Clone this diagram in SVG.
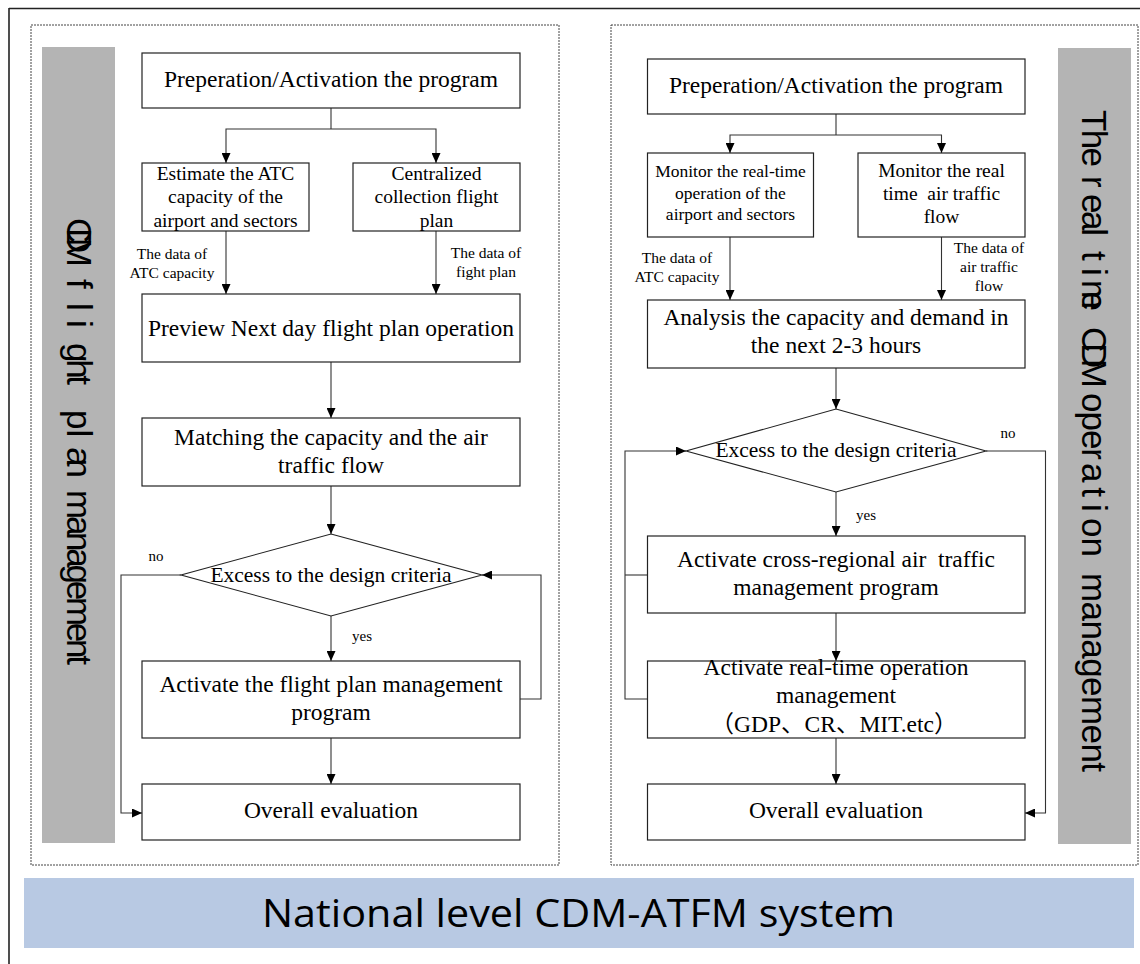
<svg xmlns="http://www.w3.org/2000/svg" width="1140" height="964" viewBox="0 0 1140 964">
<defs>
<marker id="ah" markerWidth="10" markerHeight="9" refX="10" refY="4.5" orient="auto" markerUnits="userSpaceOnUse"><path d="M0,0 L10,4.5 L0,9 z" fill="#000"/></marker>
<style>
.box{fill:#fff;stroke:#222;stroke-width:1.2}
.dia{fill:#fff;stroke:#222;stroke-width:1.1}
.con{fill:none;stroke:#333;stroke-width:1.1}
.arr{fill:none;stroke:#333;stroke-width:1.1;marker-end:url(#ah)}
.t{font-family:"Liberation Serif","Noto Sans CJK SC",serif;fill:#000;text-anchor:middle}
.big{font-size:23.5px}
.mid{font-size:19.5px}
.sm{font-size:17.5px}
.lab{font-size:15.5px}
.dt{font-size:21.5px}
.yn{font-size:15px}
.panel{fill:none;stroke:#444;stroke-width:1;stroke-dasharray:2 1}
.bar{fill:#b4b4b4}
.vt{font-family:"Liberation Sans",Arial,sans-serif;font-size:35px;fill:#000}
</style>
</defs>
<rect width="1140" height="964" fill="#fff"/>
<g id="frame">
<line x1="9" y1="8" x2="9" y2="964" stroke="#222" stroke-width="1.6"/>
<line x1="9" y1="8.5" x2="1140" y2="8.5" stroke="#222" stroke-width="1.4"/>
</g>
<g id="panel-left">
<rect class="panel" x="31" y="25" width="528" height="840"/>
<rect class="bar" x="42" y="47" width="73" height="796"/>
<g transform="rotate(90)" class="vt">
<text x="218" y="-67" textLength="49" lengthAdjust="spacing">CDM</text>
<text x="279" y="-67">f</text>
<text x="303" y="-67">l</text>
<text x="320" y="-67">i</text>
<text x="343" y="-67" textLength="42" lengthAdjust="spacing">ght</text>
<text x="410" y="-67">pl</text>
<text x="447" y="-67" textLength="31" lengthAdjust="spacing">an</text>
<text x="490" y="-67" textLength="175" lengthAdjust="spacing">management</text>
</g>
</g>
<g id="panel-right">
<rect class="panel" x="611" y="25" width="527" height="840"/>
<rect class="bar" x="1058" y="48" width="73" height="796"/>
<g transform="rotate(90)" class="vt">
<text x="110" y="-1082" textLength="57" lengthAdjust="spacing">The</text>
<text x="176" y="-1082">r</text>
<text x="194" y="-1082" textLength="42" lengthAdjust="spacing">eal</text>
<text x="251" y="-1082">t</text>
<text x="268" y="-1082">i</text>
<text x="280" y="-1082" textLength="31" lengthAdjust="spacing">me</text>
<text x="327" y="-1082" textLength="61" lengthAdjust="spacing">CDM</text>
<text x="393" y="-1082" textLength="67" lengthAdjust="spacing">oper</text>
<text x="463" y="-1082" textLength="34" lengthAdjust="spacing">at</text>
<text x="504" y="-1082">i</text>
<text x="518" y="-1082" textLength="39" lengthAdjust="spacing">on</text>
<text x="573" y="-1082" textLength="199" lengthAdjust="spacing">management</text>
</g>
</g>
<g id="connectors">
<line class="con" x1="331" y1="108" x2="331" y2="129"/>
<path class="arr" d="M331,129 H226 V163"/>
<path class="arr" d="M331,129 H436 V163"/>
<line class="arr" x1="226" y1="231" x2="226" y2="294"/>
<line class="arr" x1="436" y1="231" x2="436" y2="294"/>
<line class="arr" x1="331" y1="362" x2="331" y2="418"/>
<line class="arr" x1="331" y1="486" x2="331" y2="534"/>
<line class="arr" x1="331" y1="616" x2="331" y2="661"/>
<path class="arr" d="M181,575 H121 V813 H142"/>
<path class="arr" d="M520,699 H541 V575 H482"/>
<line class="arr" x1="331" y1="738" x2="331" y2="784"/>
<line class="con" x1="836" y1="114" x2="836" y2="135"/>
<path class="arr" d="M836,135 H730 V153"/>
<path class="arr" d="M836,135 H941.5 V153"/>
<line class="arr" x1="730" y1="237" x2="730" y2="300"/>
<line class="arr" x1="941.5" y1="237" x2="941.5" y2="300"/>
<line class="arr" x1="836" y1="368" x2="836" y2="409"/>
<line class="arr" x1="836" y1="492" x2="836" y2="536"/>
<path class="arr" d="M986,451 H1045.5 V813 H1025"/>
<line class="arr" x1="836" y1="613" x2="836" y2="661"/>
<line class="con" x1="647.5" y1="575" x2="625" y2="575"/>
<path class="arr" d="M647.5,699 H625 V451 H686"/>
<line class="arr" x1="836" y1="738" x2="836" y2="784"/>
<g class="t lab">
<text x="172" y="259">The data of</text>
<text x="172" y="278">ATC capacity</text>
<text x="486" y="258">The data of</text>
<text x="486" y="277">fight plan</text>
<text x="677" y="263">The data of</text>
<text x="677" y="282">ATC capacity</text>
<text x="989" y="253">The data of</text>
<text x="989" y="272">air traffic</text>
<text x="989" y="291">flow</text>
</g>
<g class="t yn">
<text x="156" y="561">no</text>
<text x="362" y="641">yes</text>
<text x="1008" y="438">no</text>
<text x="866" y="520">yes</text>
</g>
</g>
<g id="L1"><rect class="box" x="142" y="53" width="378" height="55"/><text class="t big" x="331" y="87">Preperation/Activation the program</text></g>
<g id="L2"><rect class="box" x="142" y="163" width="167" height="68"/><text class="t mid" x="225.5" y="180">Estimate the ATC</text><text class="t mid" x="225.5" y="203">capacity of the</text><text class="t mid" x="225.5" y="227">airport and sectors</text></g>
<g id="L3"><rect class="box" x="353" y="163" width="167" height="68"/><text class="t mid" x="436.5" y="180">Centralized</text><text class="t mid" x="436.5" y="203">collection flight</text><text class="t mid" x="436.5" y="227">plan</text></g>
<g id="L4"><rect class="box" x="142" y="294" width="378" height="68"/><text class="t big" x="331" y="336">Preview Next day flight plan operation</text></g>
<g id="L5"><rect class="box" x="142" y="418" width="378" height="68"/><text class="t big" x="331" y="445">Matching the capacity and the air</text><text class="t big" x="331" y="473">traffic flow</text></g>
<g id="L6"><polygon class="dia" points="331,534 482,575 331,616 181,575"/><text class="t dt" x="331" y="582">Excess to the design criteria</text></g>
<g id="L7"><rect class="box" x="142" y="661" width="378" height="77"/><text class="t big" x="331" y="692">Activate the flight plan management</text><text class="t big" x="331" y="720">program</text></g>
<g id="L8"><rect class="box" x="142" y="784" width="378" height="56"/><text class="t big" x="331" y="818">Overall evaluation</text></g>
<g id="R1"><rect class="box" x="647.5" y="59" width="377.5" height="55"/><text class="t big" x="836" y="93">Preperation/Activation the program</text></g>
<g id="R2"><rect class="box" x="647.5" y="153" width="166" height="84"/><text class="t sm" x="730.5" y="177">Monitor the real-time</text><text class="t sm" x="730.5" y="199">operation of the</text><text class="t sm" x="730.5" y="220">airport and sectors</text></g>
<g id="R3"><rect class="box" x="858" y="153" width="167" height="84"/><text class="t mid" x="941.5" y="177">Monitor the real</text><text class="t mid" x="941.5" y="200" xml:space="preserve">time  air traffic</text><text class="t mid" x="941.5" y="223">flow</text></g>
<g id="R4"><rect class="box" x="647.5" y="300" width="377.5" height="68"/><text class="t big" x="836" y="325">Analysis the capacity and demand in</text><text class="t big" x="836" y="353">the next 2-3 hours</text></g>
<g id="R5"><polygon class="dia" points="836,409 986,451 836,492 686,451"/><text class="t dt" x="836" y="457">Excess to the design criteria</text></g>
<g id="R6"><rect class="box" x="647.5" y="536" width="377.5" height="77"/><text class="t big" x="836" y="567" xml:space="preserve">Activate cross-regional air  traffic</text><text class="t big" x="836" y="595">management program</text></g>
<g id="R7"><rect class="box" x="647.5" y="661" width="377.5" height="77"/><text class="t big" x="836" y="675">Activate real-time operation</text><text class="t big" x="836" y="703">management</text><text class="t big" x="834" y="732">（GDP、CR、MIT.etc）</text></g>
<g id="R8"><rect class="box" x="647.5" y="784" width="377.5" height="56"/><text class="t big" x="836" y="818">Overall evaluation</text></g>
<g id="banner"><rect x="24" y="878" width="1110" height="70" fill="#b8c9e3"/><text x="262" y="927" font-family="'Open Sans','Noto Sans',sans-serif" font-size="39" textLength="633" lengthAdjust="spacingAndGlyphs" fill="#000">National level CDM-ATFM system</text></g>
</svg>
